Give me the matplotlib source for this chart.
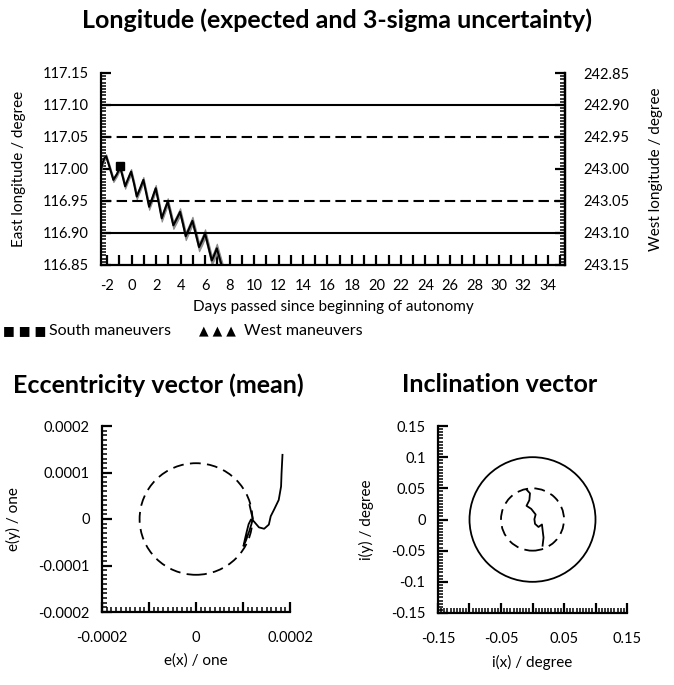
import matplotlib
matplotlib.use('Agg')
import matplotlib.pyplot as plt
from matplotlib.patches import Circle
from matplotlib.ticker import MultipleLocator, FixedLocator, FormatStrFormatter

plt.rcParams['font.family'] = ['Lato', 'DejaVu Sans']
plt.rcParams.update({
    'axes.unicode_minus': False,
    'xtick.direction': 'in', 'ytick.direction': 'in',
    'xtick.major.size': 7, 'ytick.major.size': 7,
    'xtick.major.width': 1.6, 'ytick.major.width': 1.6,
    'xtick.minor.size': 3.5, 'ytick.minor.size': 3.5,
    'xtick.minor.width': 1.1, 'ytick.minor.width': 1.1,
    'xtick.labelsize': 10.5, 'ytick.labelsize': 10.5,
    'xtick.major.pad': 9, 'ytick.major.pad': 9,
})

# longitude history (east longitude, degree)
days = [-2.5, -2.38, -2.22, -2.08, -1.8, -1.49, -1.2, -0.94, -0.74, -0.53,
        -0.28, -0.04, 0.2, 0.42, 0.7, 0.96, 1.2, 1.43, 1.7, 1.97,
        2.22, 2.46, 2.7, 2.95, 3.18, 3.41, 3.68, 3.96, 4.2, 4.42,
        4.7, 4.97, 5.24, 5.51, 5.76, 6.0, 6.28, 6.55, 6.76, 6.96,
        7.2, 7.45, 7.7]
lon = [117.000, 117.009, 117.017, 117.020, 117.003, 116.983, 116.992, 117.003, 116.989, 116.973,
       116.985, 116.996, 116.977, 116.957, 116.970, 116.983, 116.962, 116.941, 116.955, 116.970,
       116.947, 116.923, 116.936, 116.949, 116.931, 116.912, 116.922, 116.933, 116.914, 116.895,
       116.907, 116.919, 116.899, 116.878, 116.888, 116.899, 116.878, 116.857, 116.866, 116.876,
       116.860, 116.843, 116.835]
lon_3sigma = [0.003, 0.003, 0.003, 0.003, 0.0032, 0.0034, 0.0035, 0.0036, 0.0037, 0.0038,
              0.004, 0.004, 0.0042, 0.0043, 0.0044, 0.0045, 0.0046, 0.0047, 0.0048, 0.005,
              0.0051, 0.0052, 0.0053, 0.0054, 0.0055, 0.0056, 0.0057, 0.0058, 0.006, 0.0061,
              0.0062, 0.0063, 0.0064, 0.0065, 0.0066, 0.0068, 0.0069, 0.007, 0.0072, 0.0073,
              0.0075, 0.0077, 0.008]
south_day = [-0.94]
south_lon = [117.005]
box_solid = [117.10, 116.90]
box_dashed = [117.05, 116.95]

# eccentricity vector
ex = [1.14e-4, 1.18e-4, 1.21e-4, 1.18e-4, 1.13e-4, 1.06e-4, 1.01e-4, 1.04e-4, 1.08e-4, 1.12e-4,
      1.17e-4, 1.23e-4, 1.34e-4, 1.45e-4, 1.55e-4, 1.59e-4, 1.66e-4, 1.76e-4, 1.81e-4, 1.82e-4, 1.84e-4]
ey = [0.30e-4, 0.12e-4, 0.01e-4, -0.11e-4, -0.27e-4, -0.47e-4, -0.58e-4, -0.44e-4, -0.27e-4, -0.11e-4,
      -0.01e-4, -0.05e-4, -0.18e-4, -0.21e-4, -0.12e-4, 0.06e-4, 0.20e-4, 0.41e-4, 0.70e-4, 0.98e-4, 1.38e-4]
e_radius = 0.00012
e_ticks = [-0.0002, -0.0001, 0, 0.0001, 0.0002]
e_xlabels = ['-0.0002', '', '0', '', '0.0002']
e_ylabels = ['-0.0002', '-0.0001', '0', '0.0001', '0.0002']

# inclination vector
ix = [-0.0095, -0.004, -0.005, -0.0095, -0.002, 0.005, 0.003, 0.004, 0.0095, 0.015, 0.0165, 0.0175, 0.016]
iy = [0.048, 0.042, 0.031, 0.022, 0.017, 0.008, 0.0005, -0.007, -0.012, -0.008, -0.021, -0.029, -0.042]
i_radius_solid = 0.1
i_radius_dashed = 0.05
i_ticks = [-0.15, -0.1, -0.05, 0, 0.05, 0.1, 0.15]
i_xlabels = ['-0.15', '', '-0.05', '', '0.05', '', '0.15']
i_ylabels = ['-0.15', '-0.1', '-0.05', '0', '0.05', '0.1', '0.15']

W, H = 674, 685
fig = plt.figure(figsize=(W / 100, H / 100), dpi=100)


def box(l, t, r, b):
    return [l / W, 1 - b / H, (r - l) / W, (b - t) / H]


# ---- longitude ----
ax = fig.add_axes(box(101, 73, 565, 265))
ax.spines['top'].set_visible(False)
for s in ax.spines.values():
    s.set_linewidth(1.6)
ax.fill_between(days, [v - s for v, s in zip(lon, lon_3sigma)],
                [v + s for v, s in zip(lon, lon_3sigma)],
                facecolor='#8c8c8c', edgecolor='#8c8c8c', lw=0.8, zorder=2)
ax.plot(days, lon, color='black', lw=1.5, solid_joinstyle='round', zorder=3)
for y in box_solid:
    ax.axhline(y, color='black', lw=1.5)
for y in box_dashed:
    ax.axhline(y, color='black', lw=1.5, ls=(0, (5, 2.5)))
ax.plot(south_day, south_lon, 's', color='black', ms=6, zorder=4)
ax.set_xlim(-2.5, 35.4)
ax.set_ylim(116.85, 117.15)
ax.xaxis.set_major_locator(MultipleLocator(2))
ax.xaxis.set_minor_locator(MultipleLocator(1))
ax.yaxis.set_major_locator(MultipleLocator(0.05))
ax.yaxis.set_minor_locator(MultipleLocator(0.005))
ax.yaxis.set_major_formatter(FormatStrFormatter('%.2f'))
ax.tick_params(axis='x', which='minor', length=7, width=1.6)
ax.tick_params(axis='x', which='major', pad=10)
ax.set_xlabel('Days passed since beginning of autonomy', fontsize=11, labelpad=5)
ax.set_ylabel('East longitude / degree', fontsize=11, labelpad=12)

sec = ax.secondary_yaxis('right', functions=(lambda v: 360 - v, lambda v: 360 - v))
sec.yaxis.set_major_locator(MultipleLocator(0.05))
sec.yaxis.set_minor_locator(MultipleLocator(0.005))
sec.yaxis.set_major_formatter(FormatStrFormatter('%.2f'))
sec.tick_params(which='major', pad=13)
sec.spines['right'].set_linewidth(1.6)
sec.set_ylabel('West longitude / degree', fontsize=11, labelpad=14)

fig.text(337 / W, 1 - 20 / H, 'Longitude (expected and 3-sigma uncertainty)',
         ha='center', va='center', fontsize=18, fontweight='bold')
fig.text(3 / W, 1 - 331 / H, '■ ■ ■', ha='left', va='center', fontsize=9,
         family='DejaVu Sans')
fig.text(49 / W, 1 - 331 / H, 'South maneuvers', ha='left', va='center', fontsize=11.5)
fig.text(199 / W, 1 - 331 / H, '▲ ▲ ▲', ha='left', va='center', fontsize=9,
         family='DejaVu Sans')
fig.text(244 / W, 1 - 331 / H, 'West maneuvers', ha='left', va='center', fontsize=11.5)

# ---- eccentricity ----
ae = fig.add_axes(box(102, 426, 290, 612))
ae.spines['top'].set_visible(False)
ae.spines['right'].set_visible(False)
for s in ae.spines.values():
    s.set_linewidth(1.6)
ae.add_patch(Circle((0, 0), e_radius, fill=False, color='black', lw=1.3, ls=(0, (6, 3.5))))
ae.plot(ex, ey, color='black', lw=1.3)
ae.set_xlim(-0.0002, 0.0002)
ae.set_ylim(-0.0002, 0.0002)
ae.xaxis.set_major_locator(FixedLocator(e_ticks))
ae.yaxis.set_major_locator(FixedLocator(e_ticks))
ae.set_xticklabels(e_xlabels)
ae.set_yticklabels(e_ylabels)
ae.xaxis.set_minor_locator(MultipleLocator(0.00001))
ae.yaxis.set_minor_locator(MultipleLocator(0.00001))
ae.tick_params(axis='x', which='major', pad=14)
ae.set_xlabel('e(x) / one', fontsize=11, labelpad=6)
ae.set_ylabel('e(y) / one', fontsize=11, labelpad=12)
fig.text(158 / W, 1 - 385 / H, 'Eccentricity vector (mean)', ha='center', va='center',
         fontsize=18, fontweight='bold')

# ---- inclination ----
ai = fig.add_axes(box(438, 426, 627, 613))
ai.spines['top'].set_visible(False)
ai.spines['right'].set_visible(False)
for s in ai.spines.values():
    s.set_linewidth(1.6)
ai.add_patch(Circle((0, 0), i_radius_solid, fill=False, color='black', lw=1.3))
ai.add_patch(Circle((0, 0), i_radius_dashed, fill=False, color='black', lw=1.3, ls=(0, (6, 3.5))))
ai.plot(ix, iy, color='black', lw=1.3)
ai.set_xlim(-0.15, 0.15)
ai.set_ylim(-0.15, 0.15)
ai.xaxis.set_major_locator(FixedLocator(i_ticks))
ai.yaxis.set_major_locator(FixedLocator(i_ticks))
ai.set_xticklabels(i_xlabels)
ai.set_yticklabels(i_ylabels)
ai.xaxis.set_minor_locator(MultipleLocator(0.005))
ai.yaxis.set_minor_locator(MultipleLocator(0.005))
ai.tick_params(axis='x', which='major', pad=14)
ai.set_xlabel('i(x) / degree', fontsize=11, labelpad=6)
ai.set_ylabel('i(y) / degree', fontsize=11, labelpad=12)
fig.text(500 / W, 1 - 385 / H, 'Inclination vector', ha='center', va='center',
         fontsize=18, fontweight='bold')

fig.savefig('out.png', dpi=100)
plt.close(fig)
